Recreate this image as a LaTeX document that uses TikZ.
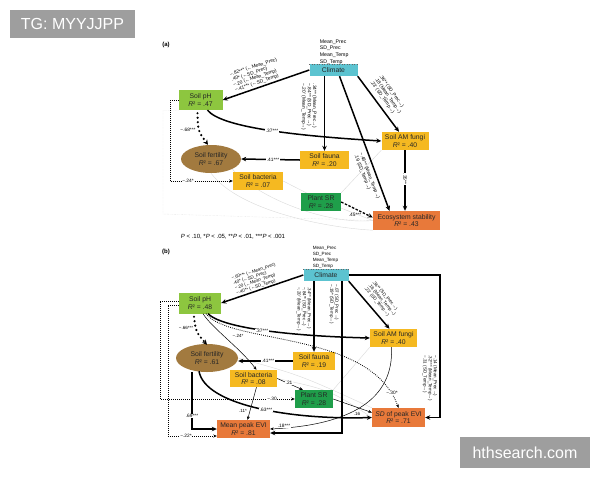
\documentclass[tikz,border=0pt]{standalone}
\usepackage{fontspec}
\setmainfont{Liberation Sans}
\usetikzlibrary{arrows.meta,calc,shapes.geometric,backgrounds}
\definecolor{climc}{HTML}{5CC3D0}
\definecolor{phg}{HTML}{8DC63F}
\definecolor{ylw}{HTML}{F5B921}
\definecolor{dgr}{HTML}{1F9E4A}
\definecolor{org}{HTML}{E8793A}
\definecolor{brn}{HTML}{A27A3F}
\definecolor{wmg}{HTML}{9E9E9E}
\begin{document}
\begin{tikzpicture}[x=1pt,y=-1pt,
  box/.style={rectangle, inner sep=0pt, align=center, font=\fontsize{6.8}{7.8}\selectfont, text=black!85},
  lab/.style={font=\fontsize{4.8}{5.4}\selectfont, inner sep=0.6pt, align=left},
  labs/.style={font=\fontsize{4.5}{5.1}\selectfont, inner sep=0.6pt, align=left},
  wl/.style={lab, fill=white},
  thk/.style={line width=1.5pt, -{Stealth[length=5pt,width=4.5pt]}},
  thn/.style={line width=0.5pt, -{Stealth[length=3.5pt,width=3pt]}},
  bigdot/.style={line width=2.4pt, dash pattern=on 0pt off 4.5pt, line cap=round, -{Stealth[length=5pt,width=5pt]}},
  dots/.style={line width=0.8pt, dash pattern=on 0.8pt off 1.2pt, -{Stealth[length=3.5pt,width=3pt]}},
  dsh/.style={line width=1.3pt, dash pattern=on 2.5pt off 1.5pt, -{Stealth[length=5pt,width=4.5pt]}},
  faint/.style={line width=0.4pt, black!15},
  wm/.style={fill=wmg, text=white, font=\fontsize{16}{16}\selectfont, inner sep=0pt}
]
\useasboundingbox (0,0) rectangle (600,480);

% watermarks
\node[wm, minimum width=125pt, minimum height=28pt] (wm1) at (72.5,24) {TG: MYYJJPP};
\node[wm, minimum width=130pt, minimum height=31pt] (wm2) at (525,452.5) {hthsearch.com};

% ================= panel (a) =================
\node[font=\bfseries\fontsize{6}{6}\selectfont] (pa) at (166,45) {(a)};
\node[lab, anchor=south west, font=\fontsize{5.2}{6.6}\selectfont] (cla) at (319,65) {Mean\_Prec\\SD\_Prec\\Mean\_Temp\\SD\_Temp};
\node[box, fill=climc, minimum width=48pt, minimum height=12pt] (cl) at (333.5,70) {Climate};
\draw[dotted, black!60, line width=0.5pt] (cl.north west) -- (cl.north east);
\node[box, fill=phg, minimum width=44pt, minimum height=20pt] (ph) at (200.5,100) {Soil pH\\\textit{R}² = .47};
\node[box, ellipse, fill=brn, minimum width=60pt, minimum height=28pt] (fe) at (211,159) {Soil fertility\\\textit{R}² = .67};
\node[box, fill=ylw, minimum width=49pt, minimum height=18pt] (fa) at (324.5,160) {Soil fauna\\\textit{R}² = .20};
\node[box, fill=ylw, minimum width=47pt, minimum height=18pt] (am) at (405,141) {Soil AM fungi\\\textit{R}² = .40};
\node[box, fill=ylw, minimum width=50pt, minimum height=18pt] (ba) at (258,181) {Soil bacteria\\\textit{R}² = .07};
\node[box, fill=dgr, minimum width=40pt, minimum height=18pt] (ps) at (321,202) {Plant SR\\\textit{R}² = .28};
\node[box, fill=org, minimum width=67pt, minimum height=19pt] (ec) at (406.5,220.5) {Ecosystem stability\\\textit{R}² = .43};
\node[font=\fontsize{6}{6}\selectfont] (cap) at (233,237) {\textit{P} < .10, *\textit{P} < .05, **\textit{P} < .01, ***\textit{P} < .001};

\begin{scope}[on background layer]
  \coordinate (fa1) at (163,214);
  \draw[faint, densely dotted] (ph.south west) -| (fa1) -- (ec.west);
  \draw[faint] (fe.south east) .. controls (260,200) and (330,225) .. (ec.west);
  \draw[faint] (ba.east) .. controls (320,200) .. (ec.west);
  \draw[faint] (am.south west) -- (ps.north east);
  \draw[faint] (fe.south) .. controls (240,212) and (330,228) .. (ec.south west);
\end{scope}

\draw[thk] (cl.west) -- (ph.east);
\node[lab, rotate=18] (l1) at (256,75) {−.82*** (←Mean\_Prec)\\.40* (←SD\_Prec)\\−.20 (←Mean\_Temp)\\−.41*** (←SD\_Temp)};
\draw[thk] (fa.north |- cl.south) -- (fa.north);
\node[lab, rotate=-90] (l2) at (309,107) {.34** (Mean\_Prec→)\\−.84** (SD\_Prec→)\\−.20' (Mean\_Temp→)};
\draw[thk] (cl.south east) -- ($(am.north)+(-6,0)$);
\node[lab, rotate=-55] (l3) at (388,96) {.36** (SD\_Prec→)\\.18 (Mean\_Temp→)\\.23' (SD\_Temp→)};
\draw[thk] ($(cl.south)+(6,0)$) -- ($(ec.north)+(-17,0)$);
\node[lab, rotate=-69] (l4) at (367,177) {−.46** (Mean\_Temp→)\\.19 (SD\_Temp→)};
\draw[thk] ($(ph.south)+(7,0)$) .. controls (222,128) and (300,136) .. (am.west);
\node[wl] (l5) at (272,131) {.37***};
\draw[bigdot] ($(ph.south)+(-3,3)$) .. controls (198,131) .. ($(fe.north)+(-3,0)$);
\node[lab] (l6) at (188,130) {−.68***};
\draw[thk] (fa.west) -- (fe.east);
\node[wl] (l7) at (273,159.5) {.41***};
\coordinate (pa1) at (170,181);
\draw[dots] (ph.west) -| (pa1) -- (ba.west);
\node[wl] (l8) at (188,181) {−.24*};
\draw[thk] (am.south) -- (am.south |- ec.north);
\node[wl, rotate=-90] (l9) at (405,179) {.35**};
\draw[dsh] (ps.east) -- ($(ec.west)+(0,-3)$);
\node[lab] (l10) at (355,215) {.45***};

% ================= panel (b) =================
\node[font=\bfseries\fontsize{6}{6}\selectfont] (pb) at (166,252) {(b)};
\node[labs, anchor=south west, font=\fontsize{4.6}{6}\selectfont] (clb) at (312,269) {Mean\_Prec\\SD\_Prec\\Mean\_Temp\\SD\_Temp};
\node[box, fill=climc, minimum width=45pt, minimum height=12pt] (cl2) at (326,275) {Climate};
\draw[dotted, black!60, line width=0.5pt] (cl2.north west) -- (cl2.north east);
\node[box, fill=phg, minimum width=42pt, minimum height=21pt] (ph2) at (200,303) {Soil pH\\\textit{R}² = .48};
\node[box, ellipse, fill=brn, minimum width=62pt, minimum height=28pt] (fe2) at (207,358) {Soil fertility\\\textit{R}² = .61};
\node[box, fill=ylw, minimum width=42pt, minimum height=18pt] (fa2) at (314,361) {Soil fauna\\\textit{R}² = .19};
\node[box, fill=ylw, minimum width=47pt, minimum height=18pt] (am2) at (393.5,338) {Soil AM fungi\\\textit{R}² = .40};
\node[box, fill=ylw, minimum width=47pt, minimum height=17pt] (ba2) at (253.5,378.5) {Soil bacteria\\\textit{R}² = .08};
\node[box, fill=dgr, minimum width=38pt, minimum height=18pt] (ps2) at (314,399) {Plant SR\\\textit{R}² = .28};
\node[box, fill=org, minimum width=53pt, minimum height=18pt] (mev) at (243.5,429) {Mean peak EVI\\\textit{R}² = .81};
\node[box, fill=org, minimum width=53pt, minimum height=19pt] (sdev) at (398.5,417.5) {\textit{SD} of peak EVI\\\textit{R}² = .71};

\begin{scope}[on background layer]
  \draw[faint] (am2.south west) -- (ps2.north east);
  \draw[faint] (fe2.east) .. controls (300,375) .. (sdev.north west);
  \draw[faint] (ba2.east) .. controls (330,390) .. (sdev.west);
\end{scope}

\draw[thk] (cl2.west) -- (ph2.east);
\node[labs, rotate=18] (m1) at (256,279) {−.60*** (←Mean\_Prec)\\.40* (←SD\_Prec)\\−.20 (←Mean\_Temp)\\−.40** (←SD\_Temp)};
\draw[thk] (fa2.north |- cl2.south) -- (fa2.north);
\node[labs, rotate=-90] (m2) at (304,309) {.34** (Mean\_Prec→)\\−.84** (SD\_Prec→)\\−.20' (Mean\_Temp→)};
\coordinate (c3) at (342,433);
\draw[thk] (cl2.south -| c3) -- (c3) -- (c3 -| mev.east);
\node[labs, rotate=-90] (m3) at (334,304) {−.07 (SD\_Prec→)\\−.19* (SD\_Temp→)};
\draw[thk] (cl2.south east) -- ($(am2.north)+(-4,0)$);
\node[labs, rotate=-50] (m4) at (382,300) {.36** (SD\_Prec→)\\.18 (Mean\_Temp→)\\.23' (SD\_Temp→)};
\coordinate (c5) at (440,275);
\draw[thk] (cl2.east) -- (c5) |- (sdev.east);
\node[labs, rotate=-90] (m5) at (430,378) {−.14 (Mean\_Prec→)\\.32*** (Mean\_Temp→)\\−.31 (SD\_Temp→)};
\draw[bigdot] ($(ph2.south)+(-6,3)$) .. controls (196,332) .. ($(fe2.north)+(0,1)$);
\node[labs] (m6) at (186,328) {−.66***};
\draw[thk] ($(ph2.south)+(8,0)$) .. controls (222,328) and (290,336) .. (am2.west);
\node[wl] (m7) at (262,331) {.37***};
\draw[thn] ($(ph2.south)+(3,0)$) .. controls (212,328) and (240,348) .. ($(ba2.north)+(3,0)$);
\node[labs] (m8) at (238,336) {−.24*};
\draw[dots] ($(ph2.south)+(6,0)$) .. controls (230,345) and (370,330) .. (sdev.north);
\node[wl] (m9) at (392,393) {−.30*};
\draw[thk] (fa2.west) -- (fe2.east |- fa2.west);
\node[wl] (m10) at (268,361) {.41***};
\coordinate (d1) at (160,399);
\draw[dots] ($(ph2.west)+(0,-2)$) -| (d1) -- (ps2.west);
\node[wl] (m11) at (272,399) {−.30};
\coordinate (d2) at (168,436);
\draw[dots] ($(ph2.west)+(0,2)$) -| (d2) -- (mev.west |- d2);
\node[wl] (m12) at (186,436) {−.22*};
\coordinate (c4) at (192,429);
\draw[thk] (fe2.south -| c4) -- (c4) -- (mev.west);
\node[wl] (m13) at (192,416) {.69***};
\draw[thk] ($(fe2.south)+(-8,-1)$) .. controls (205,405) and (290,420) .. (sdev.west);
\node[wl] (m14) at (266,410) {.63***};
\draw[thn] ($(ba2.south)+(3,0)$) -- ($(mev.north)+(4,0)$);
\node[labs] (m15) at (243,411) {.11*};
\draw[thn] (ba2.east) -- ($(ps2.north west)+(8,0)$);
\node[wl] (m16) at (289,383) {.21};
\draw[thn] (ps2.east) -- ($(sdev.west)+(0,-5)$);
\node[labs] (m17) at (357,414) {.16};
\draw[thn] ($(am2.south)+(-2,0)$) .. controls (394,400) and (350,425) .. (mev.east);
\node[wl] (m18) at (284,426) {.18***};
\end{tikzpicture}
\end{document}
